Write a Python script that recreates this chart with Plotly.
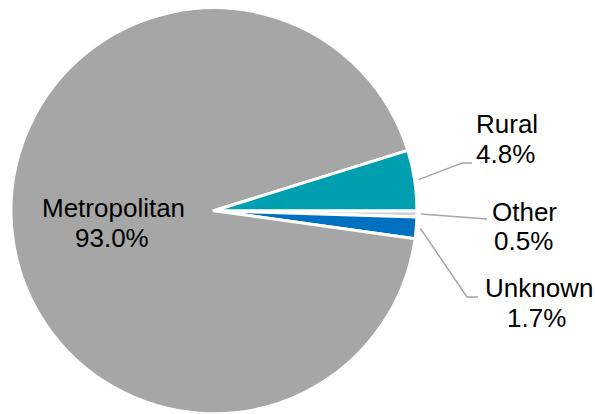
import math
import plotly.graph_objects as go

# ---- data ----
labels = ["Other", "Unknown", "Metropolitan", "Rural"]
values = [0.5, 1.7, 93.0, 4.8]
colors = ["#D0D0D0", "#0070C0", "#A6A6A6", "#009FAF"]

W, H = 595, 414
FONT = dict(family="Arial", size=26, color="#000000")

dom_x = [11 / W, 417 / W]
dom_y = [0.0, 0.982]

fig = go.Figure(go.Pie(
    labels=labels,
    values=values,
    sort=False,
    direction="clockwise",
    rotation=90,
    marker=dict(colors=colors, line=dict(color="#FFFFFF", width=3)),
    textinfo="none",
    hoverinfo="label+percent",
    domain=dict(x=dom_x, y=dom_y),
    showlegend=False,
))

# pie geometry in pixels (margins are zero)
cx = (dom_x[0] + dom_x[1]) / 2 * W
cy = H - (dom_y[0] + dom_y[1]) / 2 * H
r = min((dom_x[1] - dom_x[0]) * W, (dom_y[1] - dom_y[0]) * H) / 2
total = sum(values)

def mid_angle(i):
    before = sum(values[:i])
    frac = (before + values[i] / 2) / total
    return -frac * 2 * math.pi  # clockwise from 3 o'clock

def px(x, y):
    return x / W, 1 - y / H

# label layout: (line1 centre x, line1 baseline, line2 centre x, line2 baseline)
label_pos = {
    "Metropolitan": (113.5, 217, 111.5, 247),
    "Rural": (506.5, 133, 505, 163),
    "Other": (524.5, 221, 523, 250),
    "Unknown": (539, 297, 536, 327),
}
# leader elbows/ends for outside labels
leaders = {
    "Rural": [(462, 163), (472, 163)],
    "Other": [(487, 219)],
    "Unknown": [(467, 297), (478, 297)],
}

for i, lab in enumerate(labels):
    x1, b1, x2, b2 = label_pos[lab]
    for xx, bb, txt in ((x1, b1, lab), (x2, b2, f"{values[i]:.1f}%")):
        ax, ay = px(xx, bb - 9)
        fig.add_annotation(x=ax, y=ay, xref="paper", yref="paper", text=txt,
                           showarrow=False, xanchor="center", yanchor="middle",
                           font=FONT)
    if lab in leaders:
        a = mid_angle(i)
        sx = cx + (r + 4) * math.cos(a)
        sy = cy - (r + 4) * math.sin(a)
        pts = [(sx, sy)] + leaders[lab]
        path = "M " + " L ".join(f"{px(x, y)[0]:.5f},{px(x, y)[1]:.5f}" for x, y in pts)
        fig.add_shape(type="path", path=path, xref="paper", yref="paper",
                      line=dict(color="#A6A6A6", width=1.5))

fig.update_layout(
    width=W, height=H,
    margin=dict(l=0, r=0, t=0, b=0),
    paper_bgcolor="#FFFFFF",
    plot_bgcolor="#FFFFFF",
)

fig.write_html("out.html", config={"displayModeBar": False},
               post_script="document.body.style.margin='0';")
